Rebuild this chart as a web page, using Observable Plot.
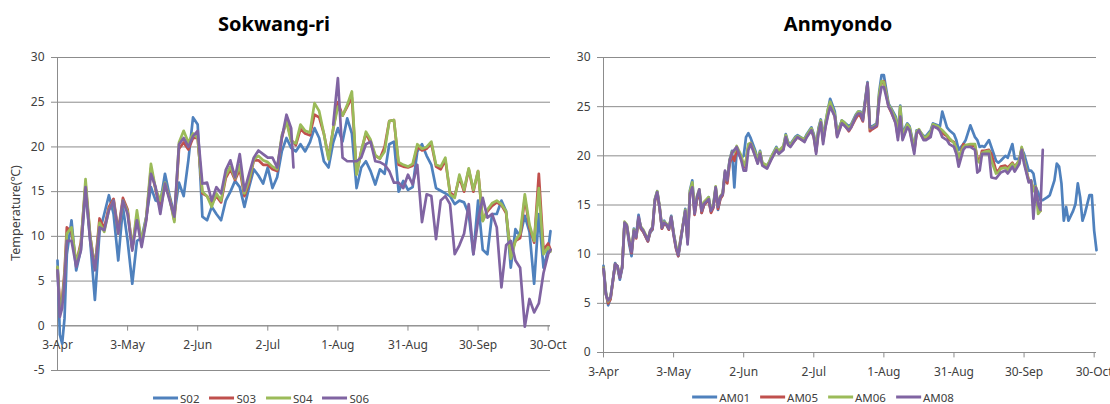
<!DOCTYPE html>
<html>
<head>
<meta charset="utf-8">
<script src="https://cdn.jsdelivr.net/npm/d3@7"></script>
<script src="https://cdn.jsdelivr.net/npm/@observablehq/plot@0.6"></script>
<style>
  html, body { margin: 0; padding: 0; background: #ffffff; }
  #wrap { position: relative; width: 1110px; height: 404px; overflow: hidden; font-family: "Noto Sans", "Open Sans", sans-serif; }
  .panel { position: absolute; top: 0; }
  .title { position: absolute; font-weight: bold; font-size: 20px; line-height: 20px; color: #000; transform: translateX(-50%); white-space: nowrap; }
  .ylab { position: absolute; font-size: 12.5px; color: #404040; white-space: nowrap; transform: translate(-50%, -50%) rotate(-90deg); }
  .legend { position: absolute; display: flex; align-items: center; gap: 10px; transform: translate(-50%, -50%); font-size: 11.5px; color: #404040; white-space: nowrap; }
  .legend .item { display: flex; align-items: center; gap: 2px; }
  .legend .sw { display: inline-block; width: 25px; height: 3px; }
</style>
</head>
<body>
<div id="wrap"></div>
<script>
// ---- shared axis definitions ----
const tickDays = [0, 30, 60, 90, 120, 150, 180, 210];
const tickLabels = ["3-Apr", "3-May", "2-Jun", "2-Jul", "1-Aug", "31-Aug", "30-Sep", "30-Oct"];
const yTicksSok = [-5, 0, 5, 10, 15, 20, 25, 30];
const yTicksAnm = [0, 5, 10, 15, 20, 25, 30];
const colors = ["#4F81BD", "#C0504D", "#9BBB59", "#8064A2"];

// ---- Sokwang-ri (days since 3-Apr) ----
const sokNames = ["S02", "S03", "S04", "S06"];
const sokDays = [0,1,2,3,4,6,8,10,12,14, 16,18,20,22,24,26,28,30,32,34, 36,38,40,42,44,46,48,50,52,54,
  56,58,60,62,64,66,68,70,72,74, 76,78,80,82,84,86,88,90,92,94, 96,98,100,101,102,104,106,108,110,112,
  114,116,118,120,122,124,126,128,130,132, 134,136,138,140,142,144,146,148,150,152, 154,156,158,160,162,164,166,168,170,172,
  174,176,178,180,182,184,186,188,190,192, 194,196,198,200,202,204,206,208,210,211];
const s02 = [7.3,-1.0,-2.0,0.8,8.0,11.8,6.2,8.5,15.2,9.5, 2.9,10.5,12.5,14.6,12.5,7.3,13.3,9.5,4.7,9.5,
  9.8,12.2,15.5,14.0,13.8,17.0,14.5,12.5,16.0,14.5, 18.5,23.3,22.5,12.2,11.8,13.3,12.5,11.8,14.0,15.0,
  16.2,15.5,13.3,15.5,17.5,16.8,15.9,17.7,15.4,16.6, 19.5,21.0,19.9,19.7,19.5,20.3,19.5,20.5,22.1,21.0,
  18.4,17.7,20.5,22.1,20.6,23.2,21.5,15.4,17.7,18.4, 17.3,15.8,17.5,17.0,20.3,20.6,15.0,16.2,15.2,15.5,
  19.5,20.3,19.0,18.0,15.4,15.1,14.8,14.5,13.6,14.0, 13.8,12.5,8.0,14.0,8.5,8.0,12.5,12.5,14.0,12.8,
  6.5,10.8,10.0,12.3,10.5,4.7,12.5,6.5,8.5,10.6];
const s03 = [6.5,2.5,3.0,6.0,11.0,10.5,7.0,9.3,15.8,10.0, 6.5,12.0,10.9,13.3,14.2,10.6,14.3,13.0,8.7,12.3,
  9.2,12.0,17.6,15.2,13.0,15.8,14.3,11.8,19.8,20.5, 19.7,21.0,21.0,14.8,14.5,13.6,14.5,13.8,16.5,17.5,
  16.3,17.5,14.5,16.0,18.5,18.5,18.0,18.0,17.5,17.3, 21.0,23.0,20.8,20.5,20.2,22.0,21.5,21.3,23.6,23.3,
  21.5,18.8,22.0,25.0,23.5,24.5,25.5,17.0,19.5,21.5, 20.5,19.0,18.7,20.0,22.9,23.0,18.0,17.8,17.7,17.9,
  20.0,19.6,19.8,20.4,17.8,17.5,18.5,14.9,14.5,16.6, 15.0,17.5,15.0,17.3,11.8,12.8,13.4,13.8,13.5,12.6,
  8.0,9.5,9.8,14.3,11.0,9.3,17.0,8.5,9.2,8.5];
const s04 = [6.6,2.0,2.8,5.5,10.3,11.0,7.0,9.0,16.4,10.0, 6.4,11.5,10.5,13.0,14.0,10.3,14.0,12.8,8.6,12.9,
  9.3,12.2,18.1,15.3,14.0,16.0,14.2,11.6,20.5,21.8, 20.5,21.5,21.0,15.0,14.5,13.3,14.8,14.0,16.8,17.8,
  16.5,18.0,14.8,16.3,18.6,19.0,18.5,18.3,17.8,17.5, 21.3,22.8,20.6,20.5,20.4,22.5,21.8,21.6,24.9,24.0,
  21.5,18.6,22.0,24.5,23.5,24.7,26.2,16.9,19.5,21.7, 20.8,19.1,18.7,19.5,22.9,23.0,18.3,18.0,17.8,18.1,
  20.3,19.8,20.0,20.6,18.0,17.8,18.8,14.7,14.3,16.9, 15.2,17.6,15.2,17.3,11.7,13.0,13.7,14.0,13.6,12.8,
  7.5,9.5,10.3,14.7,11.3,9.5,15.4,8.0,8.8,8.3];
const s06 = [6.2,1.0,2.0,5.0,9.5,9.5,6.6,8.4,15.5,9.5, 6.2,11.0,10.7,12.9,14.0,10.3,14.0,12.5,8.4,11.8,
  8.8,11.8,17.0,15.5,12.5,15.9,14.0,12.2,20.3,21.0, 20.0,21.2,21.8,15.9,16.0,14.0,15.5,14.8,17.4,18.5,
  16.6,19.2,15.1,17.0,18.8,19.6,19.2,18.8,18.8,17.7, 21.0,23.6,22.1,17.7,null,null,null,null,null,null,
  null,null,22.5,27.7,18.8,18.4,18.4,18.4,18.8,20.3, 20.6,18.4,18.3,18.0,17.3,16.0,16.0,15.4,16.9,15.8,
  18.0,11.6,14.7,14.5,9.7,14.0,14.5,13.6,8.0,9.0, 10.3,13.6,8.0,11.8,14.3,12.1,12.5,11.0,4.3,9.0,
  9.5,7.3,6.5,-0.1,3.0,1.5,2.5,5.9,8.0,8.5];

// ---- Anmyondo (days since 3-Apr) ----
const anmNames = ["AM01", "AM05", "AM06", "AM08"];
const anmDays = [0,1,2,3,5,6,7,8,9,10, 11,12,13,14,15,16,17,19,20,21, 22,23,24,25,26,27,28,29,30,31,
  32,33,35,36,37,38,39,40,41,42, 43,45,46,47,48,49,50,51,52,53, 54,55,56,57,59,60,61,62,63,65,
  66,67,68,70,71,72,74,75,77,78, 79,80,82,83,85,86,87,89,90,91, 92,93,94,95,96,97,99,100,102,103,
  105,106,108,109,110,111,113,114,115,117, 118,119,120,122,123,125,126,127,128,130, 131,133,134,135,137,138,140,141,143,144,
  145,147,148,150,151,152,154,155,157,159, 160,161,162,163,165,166,168,169,170,172, 173,175,176,178,179,180,182,183,184,185,
  186,187,188,190,191,193,194,195,196,197, 198,199,201,202,203,204,205,206,208,209, 210,211];
const am01 = [8.8,6.2,4.8,5.5,9.1,8.6,7.4,8.6,13.1,12.8, 11.0,9.8,12.6,11.9,14.0,12.6,12.3,11.3,12.2,12.5,
  15.6,16.4,14.7,12.6,13.4,12.9,12.5,13.9,12.2,10.8, 9.8,11.3,14.6,11.2,16.5,17.5,14.4,15.6,16.3,14.2,
  15.0,15.8,14.3,14.9,16.8,14.5,15.7,16.0,18.3,17.8, 19.6,20.5,16.8,20.5,19.8,20.0,21.9,22.3,21.8,20.5,
  19.5,20.5,19.2,19.0,19.4,20.0,20.9,20.4,20.9,22.2, 21.4,21.2,21.9,22.1,21.8,21.7,22.2,22.9,22.2,20.7,
  22.8,23.7,21.8,23.4,24.6,25.8,24.5,22.3,23.6,23.4, 23.0,23.2,24.2,24.5,24.5,23.9,27.5,23.0,23.0,23.3,
  26.5,28.2,28.2,25.3,24.9,24.0,22.5,25.1,22.3,23.3, 23.0,20.8,22.6,22.6,22.0,22.0,22.6,23.3,23.1,23.0,
  24.5,22.9,22.6,22.2,21.6,20.6,21.2,21.6,23.1,21.9, 21.6,20.9,21.0,20.9,21.6,20.9,19.5,19.3,19.5,20.0,
  19.8,21.2,19.7,19.7,20.7,20.2,18.5,18.5,18.2,16.8, 16.3,15.5,15.5,15.8,16.0,17.5,19.2,18.9,17.2,13.4,
  14.8,13.4,14.4,15.1,17.2,15.8,13.4,14.1,16.0,16.0, 12.4,10.4];
const am05 = [8.6,6.0,5.0,5.4,9.0,8.7,7.6,8.7,13.1,12.8, 11.3,10.1,12.3,11.6,13.6,12.6,12.3,11.3,12.3,12.6,
  15.4,16.2,14.7,12.6,13.1,13.0,12.5,13.7,12.0,10.6, 9.8,11.6,14.3,11.3,16.2,17.0,14.0,15.6,16.4,14.2,
  15.0,15.5,14.2,14.7,16.6,14.6,15.6,16.0,18.0,17.2, 19.2,20.0,19.5,20.7,19.7,18.8,19.5,21.0,21.3,20.0,
  19.3,20.3,19.1,18.8,19.3,19.8,20.6,20.3,20.7,21.9, 21.2,21.0,21.6,21.9,21.6,21.5,22.0,22.6,21.9,20.4,
  22.5,23.4,21.5,23.0,24.2,25.3,24.0,22.0,23.4,23.2, 22.5,22.9,23.8,24.2,24.0,23.5,27.3,22.5,22.7,23.0,
  26.0,27.4,27.6,25.0,24.5,23.4,21.9,24.5,21.8,23.0, 22.7,20.5,22.3,22.5,21.7,21.8,22.2,23.1,22.8,22.7,
  22.3,22.0,21.6,21.4,20.6,19.6,21.2,21.0,21.0,21.0, 19.8,19.5,20.5,20.5,20.6,20.2,18.5,18.5,18.9,19.0,
  18.8,19.3,18.9,19.5,20.8,19.5,17.5,17.4,16.6,16.8, 14.9,14.4];
const am06 = [8.6,6.0,5.2,5.6,9.0,8.8,7.7,8.8,13.3,13.0, 11.5,10.4,12.5,11.8,13.7,12.8,12.5,11.5,12.4,12.8,
  15.6,16.4,14.9,12.8,13.3,13.1,12.7,13.8,12.1,10.9, 10.0,11.5,14.5,11.5,16.4,17.3,14.3,15.9,16.6,14.6,
  15.3,15.8,14.5,15.0,16.9,14.9,15.9,16.2,18.4,17.6, 19.6,20.4,20.4,21.0,20.0,19.0,19.5,21.2,21.3,20.3,
  19.5,20.4,19.3,19.0,19.4,20.0,20.8,20.5,21.0,22.1, 21.3,21.1,21.8,22.0,21.8,21.6,22.1,22.8,22.1,20.6,
  22.7,23.6,21.7,23.3,24.7,25.5,24.2,22.2,23.6,23.4, 22.8,23.1,24.1,24.5,24.4,23.8,27.4,22.8,22.9,23.2,
  26.3,27.6,27.5,25.2,24.8,23.8,22.2,25.0,22.0,23.2, 22.9,20.7,22.5,22.7,21.9,21.9,22.4,23.2,23.0,22.8,
  22.6,22.1,21.8,21.3,20.8,19.8,20.9,21.1,21.2,21.2, 19.5,19.3,20.3,20.4,20.5,19.5,18.2,18.3,18.7,18.8,
  18.6,19.2,18.8,19.6,20.9,19.6,17.4,17.5,16.4,16.9, 14.1,14.4];
const am08 = [8.5,5.9,5.3,5.6,9.0,8.8,7.6,8.7,13.2,12.9, 11.4,10.2,12.4,11.7,13.8,12.7,12.4,11.4,12.4,12.7,
  15.5,16.3,14.8,12.7,13.2,13.0,12.6,13.8,12.0,10.7, 9.9,11.4,14.4,11.0,16.1,16.8,14.1,15.8,16.6,14.4,
  15.1,15.6,14.4,14.8,16.8,14.8,15.8,16.1,18.5,17.5, 19.5,20.3,20.6,20.9,19.5,18.5,18.5,20.6,21.2,19.9,
  19.2,20.2,19.0,18.7,19.2,19.7,20.6,20.2,20.6,21.9, 21.1,20.9,21.6,21.9,21.6,21.4,21.9,22.6,21.9,20.2,
  22.3,23.4,21.2,22.9,24.0,25.0,24.0,21.9,23.3,23.1, 22.6,22.9,24.0,24.3,24.3,23.6,27.4,22.9,22.8,23.1,
  25.7,27.0,27.0,25.0,24.6,23.3,21.6,24.0,21.6,22.9, 22.6,20.2,22.3,22.6,21.6,21.6,21.9,23.0,22.8,22.5,
  21.9,21.6,21.2,20.9,20.2,18.9,20.6,20.9,20.9,20.6, 18.3,18.5,20.2,20.2,20.2,17.8,17.7,18.0,18.3,18.5,
  18.2,18.9,18.4,19.2,20.6,19.2,17.3,17.5,13.6,16.8, 15.1,14.5,20.6];

// ---- build tidy tables ----
function tidy(days, names, arrays) {
  const out = [];
  names.forEach((name, k) => {
    arrays[k].forEach((v, i) => out.push({ day: days[i], value: v, series: name }));
  });
  return out;
}
const sokData = tidy(sokDays, sokNames, [s02, s03, s04, s06]);
const anmData = tidy(anmDays, anmNames, [am01, am05, am06, am08]);

const gridColor = "#8c8c8c";
const textColor = "#404040";
const font = "'Noto Sans', 'Open Sans', sans-serif";

function panel({ data, names, yTicks, yDomain, width, height, margins, labelDy, xTickLen }) {
  return Plot.plot({
    width, height,
    marginLeft: margins[0], marginRight: margins[1], marginTop: margins[2], marginBottom: margins[3],
    style: { fontFamily: font, fontSize: "12px", color: textColor, background: "transparent", overflow: "visible" },
    x: { domain: [0, 211], axis: null },
    y: { domain: yDomain, axis: null },
    color: { domain: names, range: colors },
    marks: [
      Plot.gridY(yTicks, { stroke: gridColor, strokeOpacity: 1, strokeWidth: 1 }),
      Plot.axisY(yTicks, { tickSize: 6, tickPadding: 7, stroke: gridColor, fill: textColor, label: null, fontSize: 12, tickFormat: d => String(d) }),
      Plot.ruleX([0], { y1: yDomain[0], y2: yDomain[1], stroke: gridColor }),
      Plot.ruleY([0], { stroke: gridColor }),
      Plot.ruleX(tickDays, { y1: 0, y2: -xTickLen, stroke: gridColor }),
      Plot.text(tickDays, { x: d => d, y: 0, text: (d, i) => tickLabels[i], dy: labelDy, fill: textColor, fontSize: 12 }),
      Plot.line(data, { x: "day", y: "value", stroke: "series", z: "series", strokeWidth: 2.7, strokeLinejoin: "round", strokeLinecap: "round" })
    ]
  });
}

const wrap = document.getElementById("wrap");

const leftSvg = panel({
  data: sokData, names: sokNames, yTicks: yTicksSok, yDomain: [-5, 30],
  width: 555, height: 385, margins: [57, 5, 57, 15], labelDy: 19, xTickLen: 0.6
});
const leftDiv = document.createElement("div");
leftDiv.className = "panel"; leftDiv.style.left = "0px";
leftDiv.appendChild(leftSvg);
wrap.appendChild(leftDiv);

const rightSvg = panel({
  data: anmData, names: anmNames, yTicks: yTicksAnm, yDomain: [0, 30],
  width: 555, height: 385, margins: [48, 14, 57, 33], labelDy: 20, xTickLen: 0.55
});
const rightDiv = document.createElement("div");
rightDiv.className = "panel"; rightDiv.style.left = "555px";
rightDiv.appendChild(rightSvg);
wrap.appendChild(rightDiv);

// titles
function addTitle(text, cx) {
  const t = document.createElement("div");
  t.className = "title"; t.textContent = text;
  t.style.left = cx + "px"; t.style.top = "14px";
  wrap.appendChild(t);
}
addTitle("Sokwang-ri", 274);
addTitle("Anmyondo", 838);

// y label
const yl = document.createElement("div");
yl.className = "ylab"; yl.textContent = "Temperature(℃)";
yl.style.left = "15px"; yl.style.top = "213px";
wrap.appendChild(yl);

// legends
function addLegend(names, cx, cy) {
  const lg = document.createElement("div");
  lg.className = "legend";
  lg.style.left = cx + "px"; lg.style.top = cy + "px";
  names.forEach((n, i) => {
    const it = document.createElement("span"); it.className = "item";
    const sw = document.createElement("span"); sw.className = "sw"; sw.style.background = colors[i];
    const tx = document.createElement("span"); tx.textContent = n;
    it.appendChild(sw); it.appendChild(tx); lg.appendChild(it);
  });
  wrap.appendChild(lg);
}
addLegend(sokNames, 261, 398);
addLegend(anmNames, 823, 397);
</script>
</body>
</html>
